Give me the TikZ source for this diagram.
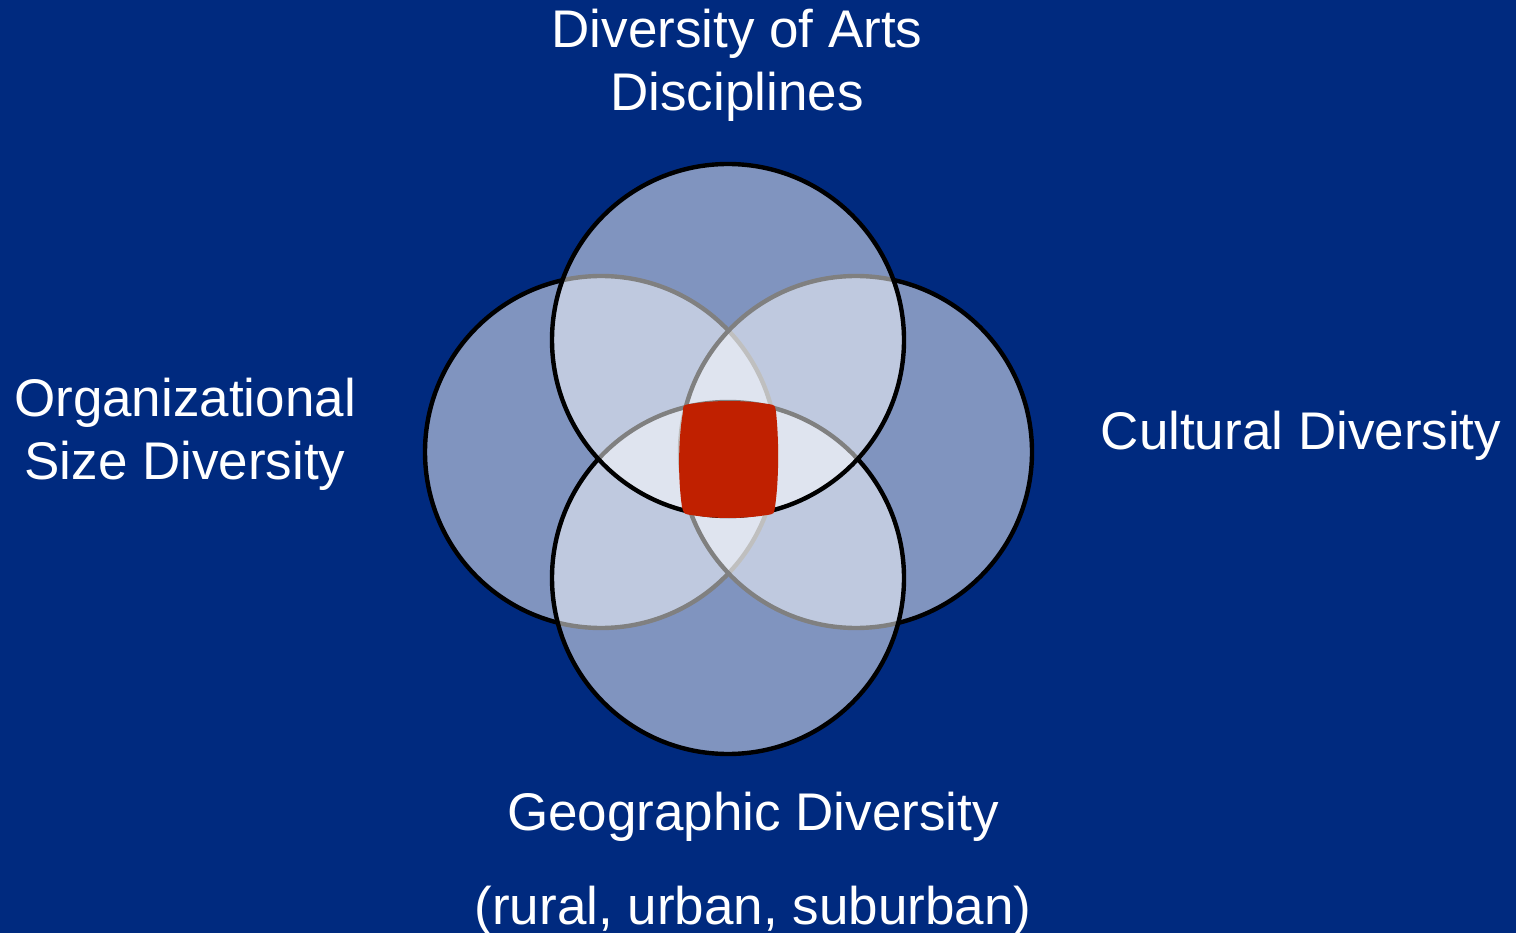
\documentclass[tikz,border=0pt]{standalone}
\usepackage{fontspec}
\setmainfont{Liberation Sans}
\definecolor{bgblue}{HTML}{002A7F}
\definecolor{corered}{HTML}{C02000}
\begin{document}
\begin{tikzpicture}[x=1pt,y=-1pt,
  venn/.style={fill=white, fill opacity=0.5, draw=black, draw opacity=1, line width=4.4pt},
  lbl/.style={text=white, font=\fontsize{53}{63}\selectfont, align=center, inner sep=0pt}]
\fill[bgblue] (0,0) rectangle (1516,933);
\useasboundingbox (0,0) rectangle (1516,933);
% circles (order: left, right, bottom, top)
\draw[venn] (601,452) circle[radius=176pt];
\draw[venn] (856,452) circle[radius=176pt];
\draw[venn] (728,578) circle[radius=176pt];
\draw[venn] (728,340) circle[radius=176pt];
% red core
\fill[corered] (683,412) .. controls (683,405) .. (690,404)
  .. controls (716,400) and (742,400) .. (768,404)
  .. controls (775,405) .. (776,412)
  .. controls (779,440) and (779,480) .. (775,507)
  .. controls (774,514) .. (767,515)
  .. controls (742,519) and (716,519) .. (691,515)
  .. controls (684,514) .. (682,507)
  .. controls (678,480) and (678,440) .. (683,412) -- cycle;
% labels
\node[lbl, anchor=base] (arts1) at (737,48) {Diversity of Arts};
\node[lbl, anchor=base] (arts2) at (737,111) {Disciplines};
\node[lbl, anchor=base] (org1) at (185,417) {Organizational};
\node[lbl, anchor=base] (org2) at (185,479) {Size Diversity};
\node[lbl, anchor=base] (cult) at (1301,449) {Cultural Diversity};
\node[lbl, anchor=base] (geo1) at (753,830) {Geographic Diversity};
\node[lbl, anchor=base] (geo2) at (753,924) {(rural, urban, suburban)};
\end{tikzpicture}
\end{document}
